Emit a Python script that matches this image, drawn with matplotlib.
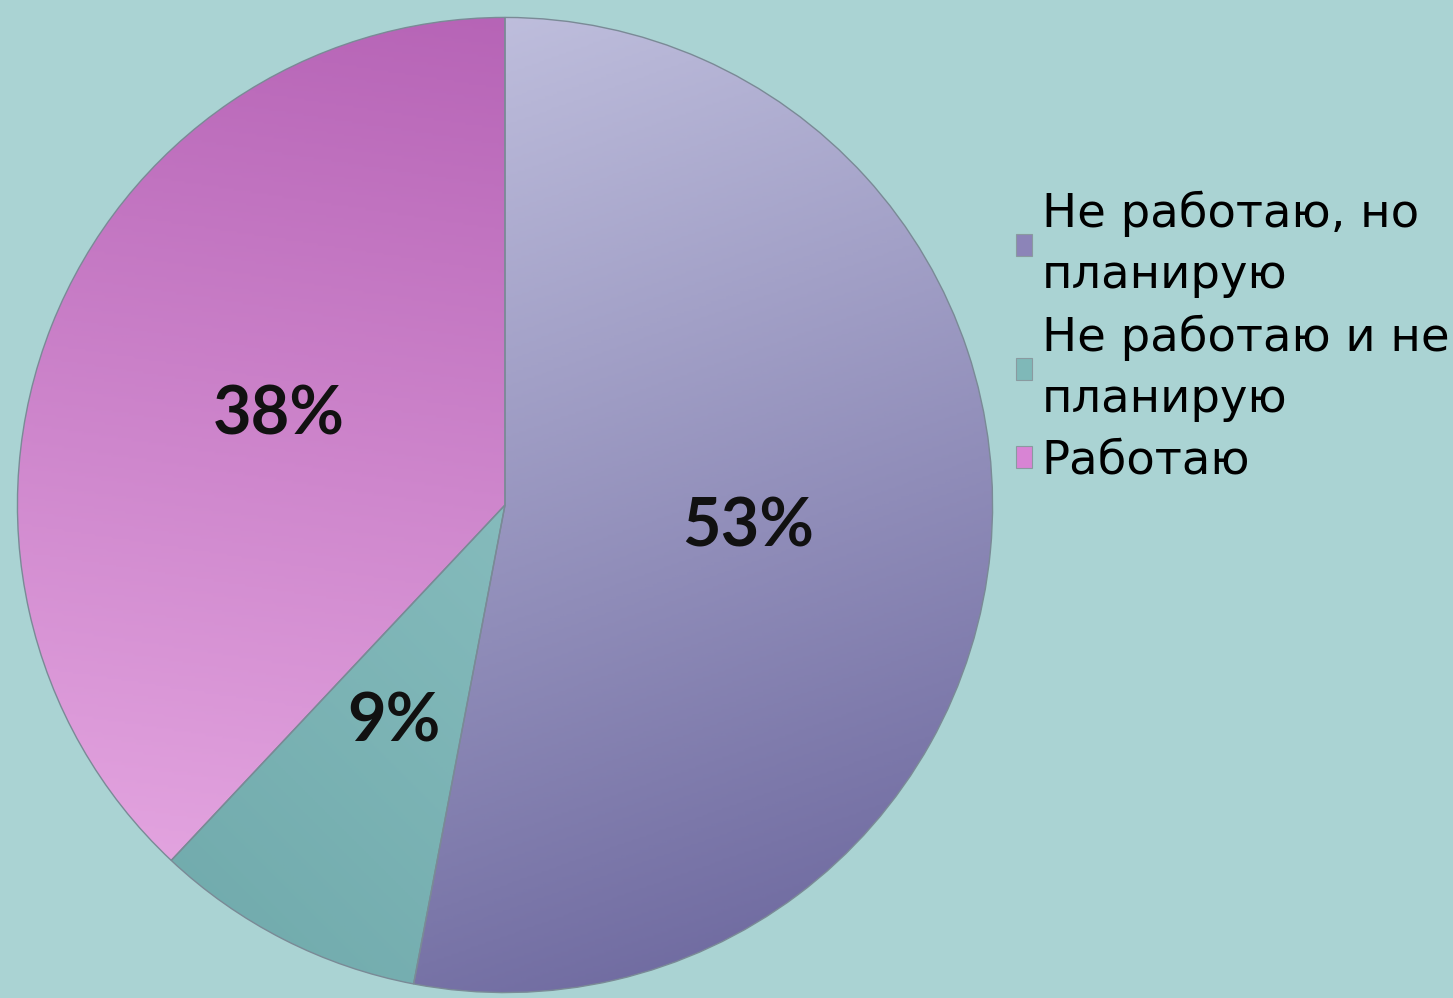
import numpy as np
import matplotlib.pyplot as plt
from matplotlib.colors import LinearSegmentedColormap

plt.rcParams['font.family'] = ['DejaVu Sans']

labels = ['Не работаю, но\nпланирую', 'Не работаю и не\nпланирую', 'Работаю']
values = [53, 9, 38]
# gradient ends per slice: (start colour, end colour, direction of change)
grads = [('#cbcbe6', '#67629a', (0.35, -1.0)),
         ('#6ba6a8', '#9fd0d0', (0.7, 0.7)),
         ('#b35fb3', '#eaaee6', (-0.15, -1.0))]
legend_cols = ['#8c84b8', '#7fb8b8', '#d884d4']
bg = '#aad3d3'

fig = plt.figure(figsize=(14.53, 9.98), dpi=100, facecolor=bg)
ax = fig.add_axes([13/1453, 3/998, 984/1453, 980/998])
ax.set_facecolor(bg)

wedges, texts, autotexts = ax.pie(values, startangle=90, counterclock=False,
                                  radius=1, autopct=lambda p: f'{round(p)}%', pctdistance=0.5,
                                  colors=legend_cols,
                                  wedgeprops=dict(edgecolor='#7a8a96', linewidth=1.0),
                                  textprops=dict(fontsize=48, fontweight='bold', color='#111111',
                                                 family=['Lato', 'DejaVu Sans']))

# paint gradients clipped to each slice
xx, yy = np.meshgrid(np.linspace(-1, 1, 400), np.linspace(1, -1, 400))
for w, (c0, c1, d) in zip(wedges, grads):
    t = xx * d[0] + yy * d[1]
    t = (t - t.min()) / (t.max() - t.min())
    cmap = LinearSegmentedColormap.from_list('g', [c0, c1])
    im = ax.imshow(t, cmap=cmap, extent=[-1, 1, -1, 1], zorder=w.get_zorder() + 0.1,
                   interpolation='bilinear')
    im.set_clip_path(w)
    w.set_facecolor('none')
    w.set_zorder(w.get_zorder() + 0.2)
for t in autotexts:
    t.set_zorder(10)

ax.set_xlim(-1.005, 1.005)
ax.set_ylim(-1.005, 1.005)
ax.set_aspect('equal')
ax.axis('off')

handles = [plt.Rectangle((0, 0), 1, 1, facecolor=c, edgecolor='#8a9aa0', linewidth=0.8)
           for c in legend_cols]
leg = fig.legend(handles, labels, loc='upper left', bbox_to_anchor=(1016/1453, 1 - 191/998),
                 frameon=False, fontsize=33.5, handlelength=0.35, handleheight=0.35,
                 handletextpad=0.2, labelspacing=0.36, borderaxespad=0, borderpad=0)
for t in leg.get_texts():
    t.set_linespacing(1.45)

fig.savefig('out.png', dpi=100, facecolor=bg)
